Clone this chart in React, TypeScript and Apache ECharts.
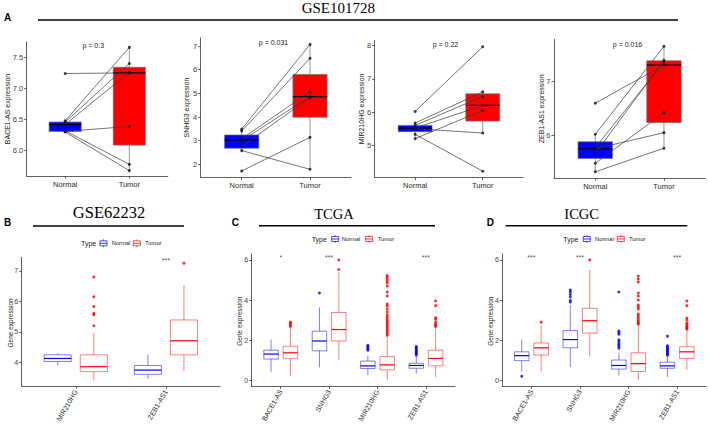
import React, { useEffect, useRef } from 'react';
import * as echarts from 'echarts';

const SANS = '"Liberation Sans", Arial, Helvetica, sans-serif';
const SERIF = '"Liberation Serif", "Times New Roman", serif';
const AXIS = '#3a3a3a';

// ---------- Panel A (paired, GSE101728) ----------
const GROUPS = ['Normal', 'Tumor'];
const PAIRED_GENES = ['BACE1-AS', 'SNHG3', 'MIR210HG', 'ZEB1-AS1'];
const PAIRED_TICKS = [[6.0, 6.5, 7.0, 7.5], [2, 3, 4, 5, 6, 7], [5, 6, 7, 8], [6, 7]];
const P_VALUES = ['p = 0.3', 'p = 0.031', 'p = 0.22', 'p = 0.016'];

// paired samples (same index = same patient)
const bace1Normal = [7.24, 6.48, 6.46, 6.42, 6.32, 6.31, 6.30];
const bace1Tumor = [7.25, 7.66, 7.40, 7.26, 5.78, 6.39, 5.68];
const snhg3Normal = [3.49, 3.41, 3.08, 3.0, 2.75, 1.72, 2.58];
const snhg3Tumor = [7.07, 6.48, 5.07, 4.87, 4.82, 3.14, 1.79];
const mir210Normal = [6.02, 5.67, 5.60, 5.52, 5.50, 5.33, 5.20];
const mir210Tumor = [7.97, 6.61, 6.47, 6.20, 5.37, 4.22, 6.05];
const zeb1Normal = [6.60, 6.02, 5.77, 5.75, 5.66, 5.48, 5.32];
const zeb1Tumor = [7.31, 7.66, 7.37, 6.05, 7.40, 6.42, 5.76];

// box stats: [lower whisker, Q1, median, Q3, upper whisker]
const bace1NormalBox = [6.30, 6.31, 6.42, 6.46, 6.48];
const bace1TumorBox = [5.68, 6.09, 7.25, 7.34, 7.66];
const snhg3NormalBox = [2.58, 2.68, 3.03, 3.24, 3.49];
const snhg3TumorBox = [1.79, 3.99, 4.86, 5.80, 7.07];
const mir210NormalBox = [5.20, 5.41, 5.52, 5.60, 5.67];
const mir210TumorBox = [5.37, 5.73, 6.20, 6.55, 6.61];
const zeb1NormalBox = [5.32, 5.57, 5.75, 5.88, 6.02];
const zeb1TumorBox = [5.76, 6.24, 7.31, 7.39, 7.66];

const PAIRED_NORMAL = [bace1Normal, snhg3Normal, mir210Normal, zeb1Normal];
const PAIRED_TUMOR = [bace1Tumor, snhg3Tumor, mir210Tumor, zeb1Tumor];
const PAIRED_NORMAL_BOX = [bace1NormalBox, snhg3NormalBox, mir210NormalBox, zeb1NormalBox];
const PAIRED_TUMOR_BOX = [bace1TumorBox, snhg3TumorBox, mir210TumorBox, zeb1TumorBox];

// ---------- Panel B (GSE62232) ----------
const B_CATS = ['MIR210HG', 'ZEB1-AS1'];
const B_TICKS = [4, 5, 6, 7];
const B_NORMAL_BOX = [[3.90, 4.03, 4.13, 4.25, 4.30], [3.47, 3.61, 3.75, 3.90, 4.25]];
const B_TUMOR_BOX = [[3.41, 3.70, 3.86, 4.25, 4.97], [3.71, 4.25, 4.71, 5.39, 6.52]];
const B_NORMAL_OUT: number[][] = [[], []];
const B_TUMOR_OUT = [[5.20, 5.56, 5.61, 5.83, 6.15, 6.80], [7.25]];
const B_SIG = ['', '***'];

// ---------- Panels C (TCGA) and D (ICGC) ----------
const CD_CATS = ['BACE1-AS', 'SNHG3', 'MIR210HG', 'ZEB1-AS1'];
const CD_TICKS = [0, 2, 4, 6];

const C_NORMAL_BOX = [
  [0.41, 1.06, 1.31, 1.50, 2.03],
  [0.65, 1.47, 1.96, 2.45, 3.63],
  [0.26, 0.59, 0.72, 0.96, 1.21],
  [0.34, 0.60, 0.74, 0.85, 1.18],
];
const C_TUMOR_BOX = [
  [0.20, 1.08, 1.37, 1.70, 2.60],
  [1.01, 1.96, 2.53, 3.38, 5.40],
  [0.00, 0.52, 0.77, 1.18, 2.20],
  [0.16, 0.72, 1.09, 1.50, 2.62],
];
const C_NORMAL_OUT = [
  [],
  [4.35],
  [1.50, 1.56, 1.62, 1.68, 1.74],
  [1.25, 1.32, 1.38, 1.44, 1.50, 1.56, 1.62, 1.68],
];
const C_TUMOR_OUT = [
  [2.68, 2.76, 2.84, 2.90],
  [5.52, 6.00],
  [2.25, 2.32, 2.40, 2.48, 2.56, 2.64, 2.72, 2.80, 2.88, 2.96, 3.05, 3.15, 3.25, 3.40, 3.55, 3.70, 3.80, 4.20, 4.40, 4.70, 4.85, 4.95, 5.05, 5.15, 5.22],
  [2.68, 2.74, 2.80, 2.90, 3.05, 3.12, 3.72, 3.95],
];
const C_SIG = ['*', '***', '', '***'];

const D_NORMAL_BOX = [
  [0.44, 0.98, 1.23, 1.42, 2.03],
  [0.65, 1.62, 2.03, 2.48, 3.76],
  [0.23, 0.56, 0.74, 1.01, 1.37],
  [0.16, 0.60, 0.72, 0.90, 1.18],
];
const D_TUMOR_BOX = [
  [0.44, 1.26, 1.62, 1.86, 2.73],
  [1.18, 2.35, 2.97, 3.59, 5.50],
  [0.00, 0.44, 0.83, 1.37, 2.73],
  [0.52, 1.09, 1.42, 1.67, 2.48],
];
const D_NORMAL_OUT = [
  [0.20],
  [3.90, 3.98, 4.15, 4.28, 4.40, 4.50],
  [1.60, 1.68, 1.76, 1.84, 1.95, 2.02, 2.30, 2.38, 2.46, 4.40],
  [1.25, 1.30, 1.36, 1.42, 1.48, 1.54, 1.60, 1.66, 1.72, 2.20],
];
const D_TUMOR_OUT = [
  [2.90],
  [6.00],
  [2.80, 2.86, 2.92, 3.00, 3.10, 3.20, 3.30, 3.55, 3.65, 3.75, 4.00, 4.20, 4.35, 4.90, 5.05, 5.20],
  [2.55, 2.60, 2.65, 2.72, 2.78, 2.85, 3.00, 3.10, 3.72, 3.95],
];
const D_SIG = ['***', '***', '', '***'];

// ---------- layout ----------
const TOP_LAYOUT = [
  { left: 26.7, top: 41.9, width: 141.1, height: 134.2, ymin: 5.592, ymax: 7.748 },
  { left: 200.7, top: 37.8, width: 150.3, height: 139.5, ymin: 1.452, ymax: 7.348 },
  { left: 374.6, top: 40.5, width: 148.7, height: 136.9, ymin: 4.0325, ymax: 8.1575 },
  { left: 554, top: 39.5, width: 151.2, height: 138.6, ymin: 5.2025, ymax: 7.7875 },
];
const TOP_NAME_X = [7.3, 186.5, 361.7, 541.7];
const P_POS = [[93.3, 45], [273.5, 42.7], [445.5, 44.7], [627.5, 44]];

const BOTTOM_LAYOUT = [
  { left: 21.7, top: 257.3, width: 198.3, height: 131.3, ymin: 3.218, ymax: 7.442 },
  { left: 251.7, top: 253.9, width: 203.3, height: 134.5, ymin: -0.3, ymax: 6.3 },
  { left: 502.3, top: 253.9, width: 204, height: 134.5, ymin: -0.3, ymax: 6.3 },
];
const BOTTOM_NAME_X = [10, 239.3, 490];
const SIG_Y = [7.34, 6.14, 6.14];

const BLUE = '#0000FF';
const RED = '#FF0000';

function boxRender(width: number, fill: string, stroke: string, median: string, lw: number, medLw: number) {
  return (params: any, api: any) => {
    const x = api.value(0);
    const lo = api.coord([x, api.value(1)]);
    const q1 = api.coord([x, api.value(2)]);
    const md = api.coord([x, api.value(3)]);
    const q3 = api.coord([x, api.value(4)]);
    const hi = api.coord([x, api.value(5)]);
    const w = api.size([width, 0])[0];
    const cx = q1[0];
    return {
      type: 'group',
      children: [
        { type: 'line', shape: { x1: cx, y1: hi[1], x2: cx, y2: q3[1] }, style: { stroke, lineWidth: lw } },
        { type: 'line', shape: { x1: cx, y1: q1[1], x2: cx, y2: lo[1] }, style: { stroke, lineWidth: lw } },
        { type: 'rect', shape: { x: cx - w / 2, y: q3[1], width: w, height: q1[1] - q3[1] }, style: { fill, stroke, lineWidth: lw } },
        { type: 'line', shape: { x1: cx - w / 2, y1: md[1], x2: cx + w / 2, y2: md[1] }, style: { stroke: median, lineWidth: medLw } },
      ],
    };
  };
}

function xAxisCfg(gridIndex: number, cats: string[], rotate: number, fontSize: number) {
  const vals = cats.map((_, i) => i + 1);
  return {
    type: 'value', gridIndex, min: 0.4, max: cats.length + 0.6,
    splitLine: { show: false },
    axisLine: { show: true, onZero: false, lineStyle: { color: AXIS, width: 0.8 } },
    axisTick: { show: true, customValues: vals, length: 2.5, lineStyle: { color: AXIS, width: 0.8 } },
    axisLabel: {
      customValues: vals, formatter: (v: number) => cats[Math.round(v) - 1] ?? '',
      rotate, fontSize, color: '#2a2a2a', margin: 4, fontFamily: SANS,
    },
  };
}

function yAxisCfg(gridIndex: number, min: number, max: number, ticks: number[], fmt: (v: number) => string, fontSize: number) {
  return {
    type: 'value', gridIndex, min, max,
    splitLine: { show: false },
    axisLine: { show: true, onZero: false, lineStyle: { color: AXIS, width: 0.8 } },
    axisTick: { show: true, customValues: ticks, length: 2.5, lineStyle: { color: AXIS, width: 0.8 } },
    axisLabel: { customValues: ticks, formatter: fmt, fontSize, color: '#444', margin: 3.5, fontFamily: SANS },
  };
}

function legendGraphic(typeX: number, y: number, iconN: number, textN: number, iconT: number, textT: number) {
  const icon = (x: number, c: string) => [
    { type: 'rect', shape: { x, y: y - 2.5, width: 7, height: 5 }, style: { fill: '#fff', stroke: c, lineWidth: 0.7 } },
    { type: 'line', shape: { x1: x, y1: y, x2: x + 7, y2: y }, style: { stroke: c, lineWidth: 0.8 } },
    { type: 'line', shape: { x1: x + 3.5, y1: y - 4, x2: x + 3.5, y2: y - 2.5 }, style: { stroke: c, lineWidth: 0.6 } },
    { type: 'line', shape: { x1: x + 3.5, y1: y + 2.5, x2: x + 3.5, y2: y + 4 }, style: { stroke: c, lineWidth: 0.6 } },
  ];
  return [
    { type: 'text', x: typeX, y, style: { text: 'Type', fontSize: 7, fill: '#222', fontFamily: SANS, align: 'left', verticalAlign: 'middle' } },
    ...icon(iconN, BLUE),
    { type: 'text', x: textN, y, style: { text: GROUPS[0], fontSize: 5.8, fill: '#222', fontFamily: SANS, align: 'left', verticalAlign: 'middle' } },
    ...icon(iconT, RED),
    { type: 'text', x: textT, y, style: { text: GROUPS[1], fontSize: 5.8, fill: '#222', fontFamily: SANS, align: 'left', verticalAlign: 'middle' } },
  ];
}

function buildOption() {
  const grid: any[] = [];
  const xAxis: any[] = [];
  const yAxis: any[] = [];
  const series: any[] = [];

  // top paired panels
  TOP_LAYOUT.forEach((g, k) => {
    grid.push({ left: g.left, top: g.top, width: g.width, height: g.height });
    xAxis.push(xAxisCfg(k, GROUPS, 0, 7.5));
    yAxis.push(yAxisCfg(k, g.ymin, g.ymax, PAIRED_TICKS[k], k === 0 ? (v: number) => v.toFixed(1) : (v: number) => String(v), 7.5));
    series.push({
      type: 'custom', xAxisIndex: k, yAxisIndex: k, encode: { x: 0, y: [1, 2, 3, 4, 5] },
      renderItem: boxRender(0.5, BLUE, '#6b6b6b', '#000', 0.7, 1.2),
      data: [[1, ...PAIRED_NORMAL_BOX[k]]],
    });
    series.push({
      type: 'custom', xAxisIndex: k, yAxisIndex: k, encode: { x: 0, y: [1, 2, 3, 4, 5] },
      renderItem: boxRender(0.5, RED, '#6b6b6b', '#000', 0.7, 1.2),
      data: [[2, ...PAIRED_TUMOR_BOX[k]]],
    });
    series.push({
      type: 'custom', xAxisIndex: k, yAxisIndex: k,
      renderItem: (params: any, api: any) => {
        const a = api.coord([1, api.value(0)]);
        const b = api.coord([2, api.value(1)]);
        return { type: 'line', shape: { x1: a[0], y1: a[1], x2: b[0], y2: b[1] }, style: { stroke: '#3a3a3a', lineWidth: 0.7 } };
      },
      data: PAIRED_NORMAL[k].map((n, i) => [n, PAIRED_TUMOR[k][i]]),
    });
    series.push({
      type: 'scatter', xAxisIndex: k, yAxisIndex: k, symbolSize: 3,
      itemStyle: { color: '#111' },
      data: [...PAIRED_NORMAL[k].map((v) => [1, v]), ...PAIRED_TUMOR[k].map((v) => [2, v])],
    });
  });

  // bottom grouped panels
  const bottom = [
    { cats: B_CATS, ticks: B_TICKS, nBox: B_NORMAL_BOX, tBox: B_TUMOR_BOX, nOut: B_NORMAL_OUT, tOut: B_TUMOR_OUT, sig: B_SIG },
    { cats: CD_CATS, ticks: CD_TICKS, nBox: C_NORMAL_BOX, tBox: C_TUMOR_BOX, nOut: C_NORMAL_OUT, tOut: C_TUMOR_OUT, sig: C_SIG },
    { cats: CD_CATS, ticks: CD_TICKS, nBox: D_NORMAL_BOX, tBox: D_TUMOR_BOX, nOut: D_NORMAL_OUT, tOut: D_TUMOR_OUT, sig: D_SIG },
  ];
  bottom.forEach((p, j) => {
    const k = 4 + j;
    const g = BOTTOM_LAYOUT[j];
    grid.push({ left: g.left, top: g.top, width: g.width, height: g.height });
    xAxis.push(xAxisCfg(k, p.cats, 60, 7));
    yAxis.push(yAxisCfg(k, g.ymin, g.ymax, p.ticks, (v: number) => String(v), 7));
    const boxStroke = ['rgba(40,40,255,0.75)', 'rgba(255,40,40,0.75)'];
    series.push({
      type: 'custom', xAxisIndex: k, yAxisIndex: k, encode: { x: 0, y: [1, 2, 3, 4, 5] },
      renderItem: boxRender(0.3, '#fff', boxStroke[0], BLUE, 0.8, 1.2),
      data: p.nBox.map((b, i) => [i + 1 - 0.2, ...b]),
    });
    series.push({
      type: 'custom', xAxisIndex: k, yAxisIndex: k, encode: { x: 0, y: [1, 2, 3, 4, 5] },
      renderItem: boxRender(0.3, '#fff', boxStroke[1], RED, 0.8, 1.2),
      data: p.tBox.map((b, i) => [i + 1 + 0.2, ...b]),
    });
    series.push({
      type: 'scatter', xAxisIndex: k, yAxisIndex: k, symbolSize: 3, itemStyle: { color: BLUE },
      data: p.nOut.flatMap((arr, i) => arr.map((v) => [i + 1 - 0.2, v])),
    });
    series.push({
      type: 'scatter', xAxisIndex: k, yAxisIndex: k, symbolSize: 3, itemStyle: { color: RED },
      data: p.tOut.flatMap((arr, i) => arr.map((v) => [i + 1 + 0.2, v])),
    });
    series.push({
      type: 'scatter', xAxisIndex: k, yAxisIndex: k, symbolSize: 0, silent: true,
      label: {
        show: true, position: 'inside', formatter: (q: any) => q.value[2],
        fontSize: 7, color: '#222', fontFamily: SANS,
      },
      data: p.sig.map((s, i) => [i + 1, SIG_Y[j], s]).filter((d) => d[2] !== ''),
    });
  });

  const graphic: any[] = [];
  const txt = (x: number, y: number, text: string, fontSize: number, family: string, extra: any = {}) => ({
    type: 'text', x, y, silent: true,
    style: { text, fontSize, fontFamily: family, fill: '#000', align: 'center', verticalAlign: 'middle', ...extra },
  });
  const hline = (x1: number, x2: number, y: number, w: number) => ({
    type: 'line', silent: true, shape: { x1, y1: y, x2, y2: y }, style: { stroke: '#000', lineWidth: w },
  });

  // titles and rules
  graphic.push(txt(338.3, 8, 'GSE101728', 15, SERIF));
  graphic.push(hline(38, 678, 20, 1.5));
  graphic.push(txt(109, 212.5, 'GSE62232', 16.5, SERIF));
  graphic.push(hline(33, 184, 226, 1.4));
  graphic.push(txt(334, 213.5, 'TCGA', 14.5, SERIF));
  graphic.push(hline(259, 435, 225.7, 1.4));
  graphic.push(txt(581.7, 213.5, 'ICGC', 14.5, SERIF));
  graphic.push(hline(505.7, 687.3, 225.7, 1.4));

  // panel letters
  graphic.push(txt(4, 17, 'A', 10, SANS, { align: 'left', fontWeight: 'bold' }));
  graphic.push(txt(4, 222, 'B', 10, SANS, { align: 'left', fontWeight: 'bold' }));
  graphic.push(txt(231.7, 222, 'C', 10, SANS, { align: 'left', fontWeight: 'bold' }));
  graphic.push(txt(486.7, 222, 'D', 10, SANS, { align: 'left', fontWeight: 'bold' }));

  // p-values and axis names for paired panels
  TOP_LAYOUT.forEach((g, k) => {
    graphic.push(txt(P_POS[k][0], P_POS[k][1], P_VALUES[k], 7, SANS, { fill: '#222' }));
    graphic.push({
      type: 'text', x: TOP_NAME_X[k], y: g.top + g.height / 2, rotation: Math.PI / 2, silent: true,
      style: { text: PAIRED_GENES[k] + ' expression', fontSize: 7, fontFamily: SANS, fill: '#222', align: 'center', verticalAlign: 'middle' },
    });
  });
  BOTTOM_LAYOUT.forEach((g, j) => {
    graphic.push({
      type: 'text', x: BOTTOM_NAME_X[j], y: g.top + g.height / 2, rotation: Math.PI / 2, silent: true,
      style: { text: 'Gene expression', fontSize: 6.5, fontFamily: SANS, fill: '#222', align: 'center', verticalAlign: 'middle' },
    });
  });

  // legends
  graphic.push(...legendGraphic(81, 243.3, 100, 111.7, 133.3, 145));
  graphic.push(...legendGraphic(311.7, 239, 331.7, 341.7, 365.7, 377.7));
  graphic.push(...legendGraphic(563.3, 239, 583.3, 595, 617.3, 629));

  return {
    animation: false,
    backgroundColor: '#ffffff',
    grid, xAxis, yAxis, series, graphic,
  };
}

export default function App() {
  const ref = useRef<HTMLDivElement>(null);
  useEffect(() => {
    if (!ref.current) return;
    const chart = echarts.init(ref.current, null, { renderer: 'svg' });
    chart.setOption(buildOption() as any);
    return () => chart.dispose();
  }, []);
  return (
    <div
      ref={ref}
      style={{ position: 'fixed', left: 0, top: 0, width: 708, height: 425, background: '#fff' }}
    />
  );
}
